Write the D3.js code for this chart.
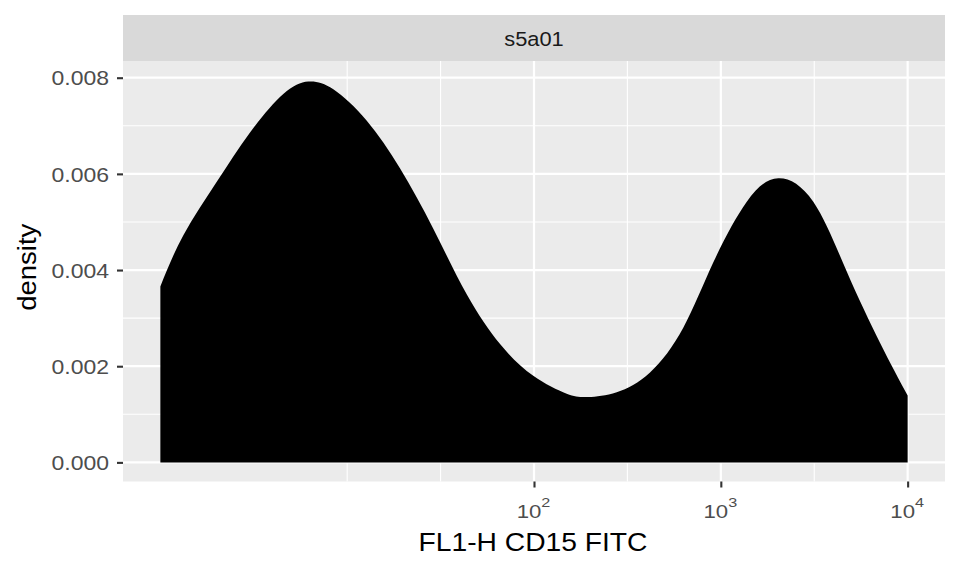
<!DOCTYPE html>
<html>
<head>
<meta charset="utf-8">
<script src="https://cdn.jsdelivr.net/npm/d3@7"></script>
<style>
  html, body { margin: 0; padding: 0; background: #ffffff; }
  svg { display: block; }
  text { font-family: "Liberation Sans", Arial, Helvetica, sans-serif; }
</style>
</head>
<body>
<svg id="chart" width="960" height="576"></svg>
<script>
// ---- data ----
const facetLabel = "s5a01";
const xTitle = "FL1-H CD15 FITC";
const yTitle = "density";
// FL1-H values (log-scaled axis) and estimated kernel density
const fl1h = [1, 1.33, 2.0, 3.02, 4.55, 6.19, 8.43, 12.7, 19.2, 28.9, 43.7, 65.8, 99.1,
              149.6, 195.4, 277.3, 417.8, 629.5, 912, 1377, 2032, 3126, 4721, 7112, 10000];
const densityValues = [0.00366, 0.00473, 0.00583, 0.00686, 0.00766, 0.00792, 0.00776, 0.00711,
              0.00611, 0.00486, 0.00349, 0.00246, 0.00180, 0.00143, 0.00136, 0.00146,
              0.00187, 0.00280, 0.00416, 0.00542, 0.00591, 0.00542, 0.00397, 0.00249, 0.00139];
const yTicks = [0, 0.002, 0.004, 0.006, 0.008];
const yMinor = [0.001, 0.003, 0.005, 0.007];
const xTicks = [100, 1000, 10000];
const xTickExponents = ["2", "3", "4"];
const xMinor = [10, 31.62, 316.2, 3162];

// ---- layout ----
const svg = d3.select("#chart");
const panel = { left: 123, right: 945, top: 61, bottom: 481.5 };
const strip = { top: 15, bottom: 61 };

const x = d3.scaleLog().domain([Math.pow(10, -0.2), Math.pow(10, 4.2)]).range([panel.left, panel.right]);
const y = d3.scaleLinear().domain([-0.0003975, 0.0083475]).range([panel.bottom, panel.top]);

// strip
svg.append("rect").attr("x", panel.left).attr("y", strip.top)
  .attr("width", panel.right - panel.left).attr("height", strip.bottom - strip.top)
  .attr("fill", "#D9D9D9");
svg.append("text").attr("transform", `translate(${(panel.left + panel.right) / 2},${strip.top + 31}) scale(1.12,1)`)
  .attr("text-anchor", "middle").attr("font-size", 19.5).attr("fill", "#1A1A1A").text(facetLabel);

// panel background
svg.append("rect").attr("x", panel.left).attr("y", panel.top)
  .attr("width", panel.right - panel.left).attr("height", panel.bottom - panel.top)
  .attr("fill", "#EBEBEB");

const grid = svg.append("g");
// minor grid
grid.selectAll("line.ymin").data(yMinor).enter().append("line")
  .attr("x1", panel.left).attr("x2", panel.right)
  .attr("y1", d => y(d)).attr("y2", d => y(d))
  .attr("stroke", "#FFFFFF").attr("stroke-width", 1.1);
grid.selectAll("line.xmin").data(xMinor).enter().append("line")
  .attr("y1", panel.top).attr("y2", panel.bottom)
  .attr("x1", d => x(d)).attr("x2", d => x(d))
  .attr("stroke", "#FFFFFF").attr("stroke-width", 1.1);
// major grid
grid.selectAll("line.ymaj").data(yTicks).enter().append("line")
  .attr("x1", panel.left).attr("x2", panel.right)
  .attr("y1", d => y(d)).attr("y2", d => y(d))
  .attr("stroke", "#FFFFFF").attr("stroke-width", 2.2);
grid.selectAll("line.xmaj").data(xTicks).enter().append("line")
  .attr("y1", panel.top).attr("y2", panel.bottom)
  .attr("x1", d => x(d)).attr("x2", d => x(d))
  .attr("stroke", "#FFFFFF").attr("stroke-width", 2.2);

// density area
const data = fl1h.map((v, i) => ({ v, d: densityValues[i] }));
const area = d3.area()
  .x(d => x(d.v))
  .y0(y(0))
  .y1(d => y(d.d))
  .curve(d3.curveNatural);
svg.append("path").datum(data).attr("d", area).attr("fill", "#000000").attr("stroke", "none");

// y axis
const yAxis = svg.append("g").attr("transform", `translate(${panel.left},0)`)
  .call(d3.axisLeft(y).tickValues(yTicks).tickSize(6).tickPadding(5).tickFormat(d3.format(".3f")));
yAxis.select(".domain").remove();
yAxis.selectAll(".tick line").attr("stroke", "#333333").attr("stroke-width", 2.1);
yAxis.selectAll(".tick text").attr("font-size", 20).attr("fill", "#4D4D4D")
  .attr("font-family", null).attr("dy", "0.36em")
  .attr("transform", "scale(1.15,1)")
  .attr("x", -14 / 1.15);

// x axis
const xAxis = svg.append("g").attr("transform", `translate(0,${panel.bottom})`)
  .call(d3.axisBottom(x).tickValues(xTicks).tickSize(6).tickFormat(""));
xAxis.select(".domain").remove();
xAxis.selectAll(".tick line").attr("stroke", "#333333").attr("stroke-width", 2.1);
xAxis.selectAll(".tick").each(function (d, i) {
  const t = d3.select(this).append("text")
    .attr("transform", "translate(-1,36) scale(1.2,1)")
    .attr("text-anchor", "middle").attr("fill", "#4D4D4D").attr("font-size", 18.5);
  t.append("tspan").text("10");
  t.append("tspan").attr("dy", -11).attr("font-size", 13.5).text(xTickExponents[i]);
});

// axis titles
svg.append("text").attr("transform", `translate(${(panel.left + panel.right) / 2 - 1},551) scale(1.13,1)`)
  .attr("text-anchor", "middle").attr("font-size", 25).attr("fill", "#000000").text(xTitle);
svg.append("text").attr("transform", `translate(36,${(panel.top + panel.bottom) / 2 - 4}) rotate(-90) scale(1.1,1)`)
  .attr("text-anchor", "middle").attr("font-size", 25).attr("fill", "#000000").text(yTitle);
</script>
</body>
</html>
